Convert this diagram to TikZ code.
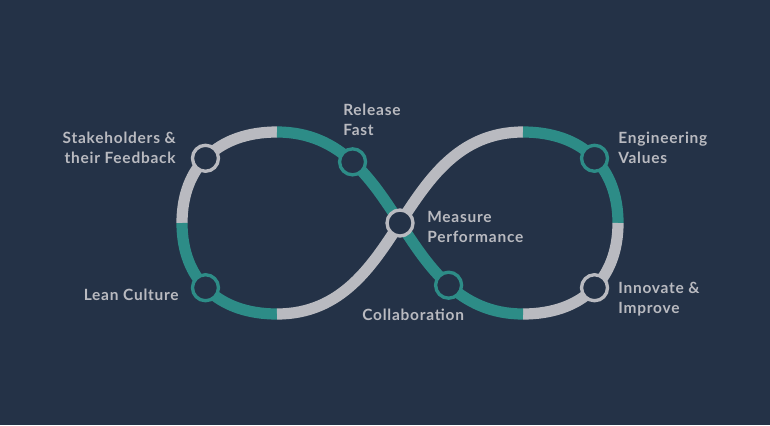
\documentclass[tikz,border=0pt]{standalone}
\usepackage{fontspec}
\setmainfont{Lato}[LetterSpace=5]
\usetikzlibrary{positioning}
\definecolor{navy}{HTML}{243247}
\definecolor{loopgray}{HTML}{B9BAC0}
\definecolor{loopteal}{HTML}{2D8C87}

\begin{document}
\begin{tikzpicture}[
  x=0.75pt, y=-0.75pt,
  band/.style={line width=8.4pt},
  ring/.style={circle, draw=#1, line width=2.5pt, fill=navy,
               minimum size=19.5pt, inner sep=0pt},
  lbl/.style={text=loopgray, inner sep=0pt,
              font=\bfseries\fontsize{11.6}{15}\selectfont}
]
\fill[navy] (0,0) rectangle (770,425);

% turning points of the loop
\coordinate (tl) at (277,132);
\coordinate (lf) at (182,223);
\coordinate (bl) at (277,314);
\coordinate (cx) at (400,223);
\coordinate (tr) at (523,132);
\coordinate (rt) at (618,223);
\coordinate (br) at (523,314);

% left loop
\draw[band, loopgray] (tl) .. controls (218.1,132) and (182,166.6) .. (lf)
  coordinate[pos=0.52] (stakeP);
\draw[band, loopteal] (lf) .. controls (182,279.4) and (218.1,314) .. (bl)
  coordinate[pos=0.48] (leanP);
\draw[band, loopgray] (bl) .. controls (342,314) and (372.5,264.75) .. (cx);
% right loop
\draw[band, loopgray] (cx) .. controls (427.5,181.25) and (458,132) .. (tr);
\draw[band, loopteal] (tr) .. controls (581.9,132) and (618,166.6) .. (rt)
  coordinate[pos=0.52] (engP);
\draw[band, loopgray] (rt) .. controls (618,279.4) and (581.9,314) .. (br)
  coordinate[pos=0.48] (innoP);
\draw[band, loopteal] (br) .. controls (458,314) and (427.5,264.75) .. (cx)
  coordinate[pos=0.49] (collP);
\draw[band, loopteal] (cx) .. controls (372.5,181.25) and (342,132) .. (tl)
  coordinate[pos=0.50] (relP);

% rings
\node[ring=loopgray] (stake) at (stakeP) {};
\node[ring=loopteal] (lean) at (leanP) {};
\node[ring=loopteal] (release) at (relP) {};
\node[ring=loopgray] (measure) at (cx) {};
\node[ring=loopteal] (collab) at (collP) {};
\node[ring=loopteal] (engin) at (engP) {};
\node[ring=loopgray] (innov) at (innoP) {};

% labels
\node[lbl, align=right, anchor=east] (stakeL) at (176,147.5) {Stakeholders \&\\their Feedback};
\node[lbl, anchor=east] (leanL) at (179,295) {Lean Culture};
\node[lbl, align=left, anchor=west] (releaseL) at (343,120) {Release\\Fast};
\node[lbl, align=left, anchor=west] (measureL) at (427,226.5) {Measure\\Performance};
\node[lbl, anchor=west] (collabL) at (362,315) {Collaboration};
\node[lbl, align=left, anchor=west] (enginL) at (618,147.5) {Engineering\\Values};
\node[lbl, align=left, anchor=west] (innovL) at (618,299.4) {Innovate \&\\Improve};
\end{tikzpicture}
\end{document}
